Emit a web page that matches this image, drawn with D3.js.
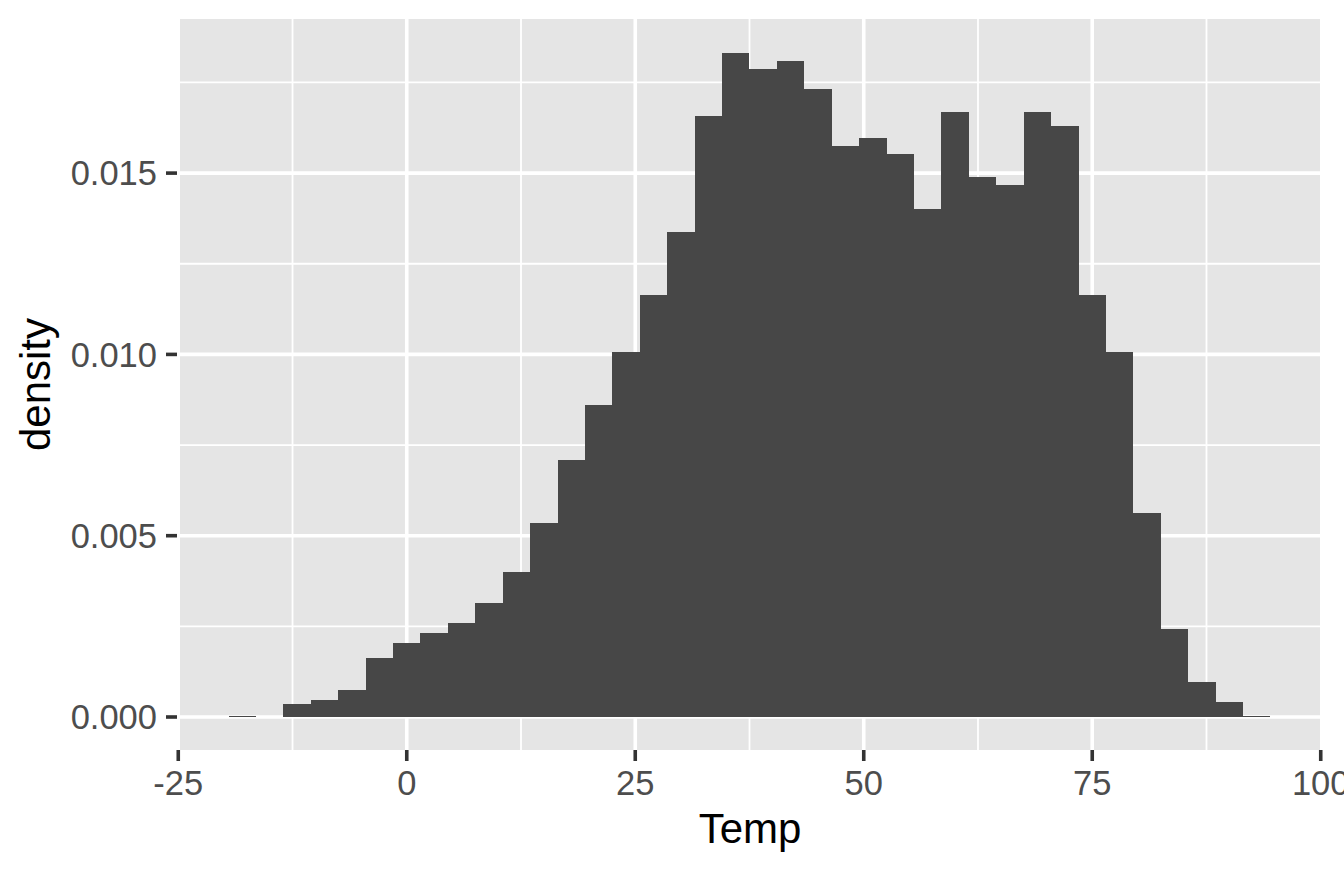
<!DOCTYPE html>
<html>
<head>
<meta charset="utf-8">
<script src="https://cdn.jsdelivr.net/npm/d3@7"></script>
<style>
  html, body { margin: 0; padding: 0; background: #ffffff; }
  svg { display: block; }
  text { font-family: "Liberation Sans", Arial, Helvetica, sans-serif; }
</style>
</head>
<body>
<script>
// ---- data ----
const binLeft = [-19.5, -16.5, -13.5, -10.5, -7.5, -4.5, -1.5, 1.5, 4.5, 7.5,
                 10.5, 13.5, 16.5, 19.5, 22.5, 25.5, 28.5, 31.5, 34.5, 37.5,
                 40.5, 43.5, 46.5, 49.5, 52.5, 55.5, 58.5, 61.5, 64.5, 67.5,
                 70.5, 73.5, 76.5, 79.5, 82.5, 85.5, 88.5, 91.5];
const binWidth = 3;
const density = [0.00004, 0.00000, 0.00035, 0.00046, 0.00074, 0.00162, 0.00203, 0.00231, 0.00258, 0.00314,
                 0.00400, 0.00534, 0.00709, 0.00860, 0.01006, 0.01163, 0.01338, 0.01657, 0.01831, 0.01786,
                 0.01808, 0.01731, 0.01574, 0.01596, 0.01552, 0.01400, 0.01668, 0.01488, 0.01466, 0.01668,
                 0.01629, 0.01163, 0.01007, 0.00562, 0.00242, 0.00096, 0.00041, 0.00004];
const xTicks = [-25, 0, 25, 50, 75, 100];
const xMinor = [-12.5, 12.5, 37.5, 62.5, 87.5];
const yTicks = [0, 0.005, 0.010, 0.015];
const yTickLabels = ["0.000", "0.005", "0.010", "0.015"];
const yMinor = [0.0025, 0.0075, 0.0125, 0.0175];
const xTitle = "Temp";
const yTitle = "density";

// ---- layout ----
const W = 1344, H = 873;
const panel = { left: 180, right: 1320, top: 19, bottom: 750 };

const svg = d3.select("body").append("svg").attr("width", W).attr("height", H);

const x = d3.scaleLinear().domain([-24.81, 99.92]).range([panel.left, panel.right]);
const y = d3.scaleLinear().domain([-0.00091, 0.01925]).range([panel.bottom, panel.top]);

// panel background
svg.append("rect")
  .attr("x", panel.left).attr("y", panel.top)
  .attr("width", panel.right - panel.left).attr("height", panel.bottom - panel.top)
  .attr("fill", "#e5e5e5");

const grid = svg.append("g");
// minor grid
grid.selectAll(".ymin").data(yMinor).enter().append("line")
  .attr("x1", panel.left).attr("x2", panel.right)
  .attr("y1", d => y(d)).attr("y2", d => y(d))
  .attr("stroke", "#ffffff").attr("stroke-width", 1.8);
grid.selectAll(".xmin").data(xMinor).enter().append("line")
  .attr("y1", panel.top).attr("y2", panel.bottom)
  .attr("x1", d => x(d)).attr("x2", d => x(d))
  .attr("stroke", "#ffffff").attr("stroke-width", 1.8);
// major grid
grid.selectAll(".ymaj").data(yTicks).enter().append("line")
  .attr("x1", panel.left).attr("x2", panel.right)
  .attr("y1", d => y(d)).attr("y2", d => y(d))
  .attr("stroke", "#ffffff").attr("stroke-width", 3.6);
grid.selectAll(".xmaj").data(xTicks.filter(d => x(d) >= panel.left && x(d) <= panel.right)).enter().append("line")
  .attr("y1", panel.top).attr("y2", panel.bottom)
  .attr("x1", d => x(d)).attr("x2", d => x(d))
  .attr("stroke", "#ffffff").attr("stroke-width", 3.6);

// bars
svg.append("g").attr("shape-rendering", "crispEdges")
  .selectAll("rect").data(binLeft.map((l, i) => ({ l, d: density[i] })))
  .enter().append("rect")
  .attr("x", d => Math.round(x(d.l)))
  .attr("width", d => Math.round(x(d.l + binWidth)) - Math.round(x(d.l)))
  .attr("y", d => y(d.d))
  .attr("height", d => y(0) - y(d.d))
  .attr("fill", "#474747");

// x axis ticks + labels
const xAxisG = svg.append("g");
xAxisG.selectAll("line").data(xTicks).enter().append("line")
  .attr("x1", d => x(d)).attr("x2", d => x(d))
  .attr("y1", panel.bottom).attr("y2", panel.bottom + 11)
  .attr("stroke", "#333333").attr("stroke-width", 3.6);
xAxisG.selectAll("text").data(xTicks).enter().append("text")
  .attr("x", d => x(d)).attr("y", 795)
  .attr("text-anchor", "middle")
  .attr("font-size", 34.5).attr("fill", "#4d4d4d")
  .text(d => d);

// y axis ticks + labels
const yAxisG = svg.append("g");
yAxisG.selectAll("line").data(yTicks).enter().append("line")
  .attr("x1", 166).attr("x2", 177)
  .attr("y1", d => y(d)).attr("y2", d => y(d))
  .attr("stroke", "#333333").attr("stroke-width", 3.6);
yAxisG.selectAll("text").data(yTicks).enter().append("text")
  .attr("x", 157).attr("y", d => y(d))
  .attr("dy", "0.355em")
  .attr("text-anchor", "end")
  .attr("font-size", 34.5).attr("fill", "#4d4d4d")
  .text((d, i) => yTickLabels[i]);

// axis titles
svg.append("text")
  .attr("x", (panel.left + panel.right) / 2).attr("y", 843)
  .attr("text-anchor", "middle")
  .attr("font-size", 42).attr("fill", "#000000")
  .text(xTitle);
svg.append("text")
  .attr("transform", `translate(50,${(panel.top + panel.bottom) / 2}) rotate(-90)`)
  .attr("text-anchor", "middle")
  .attr("font-size", 42).attr("fill", "#000000")
  .text(yTitle);
</script>
</body>
</html>
